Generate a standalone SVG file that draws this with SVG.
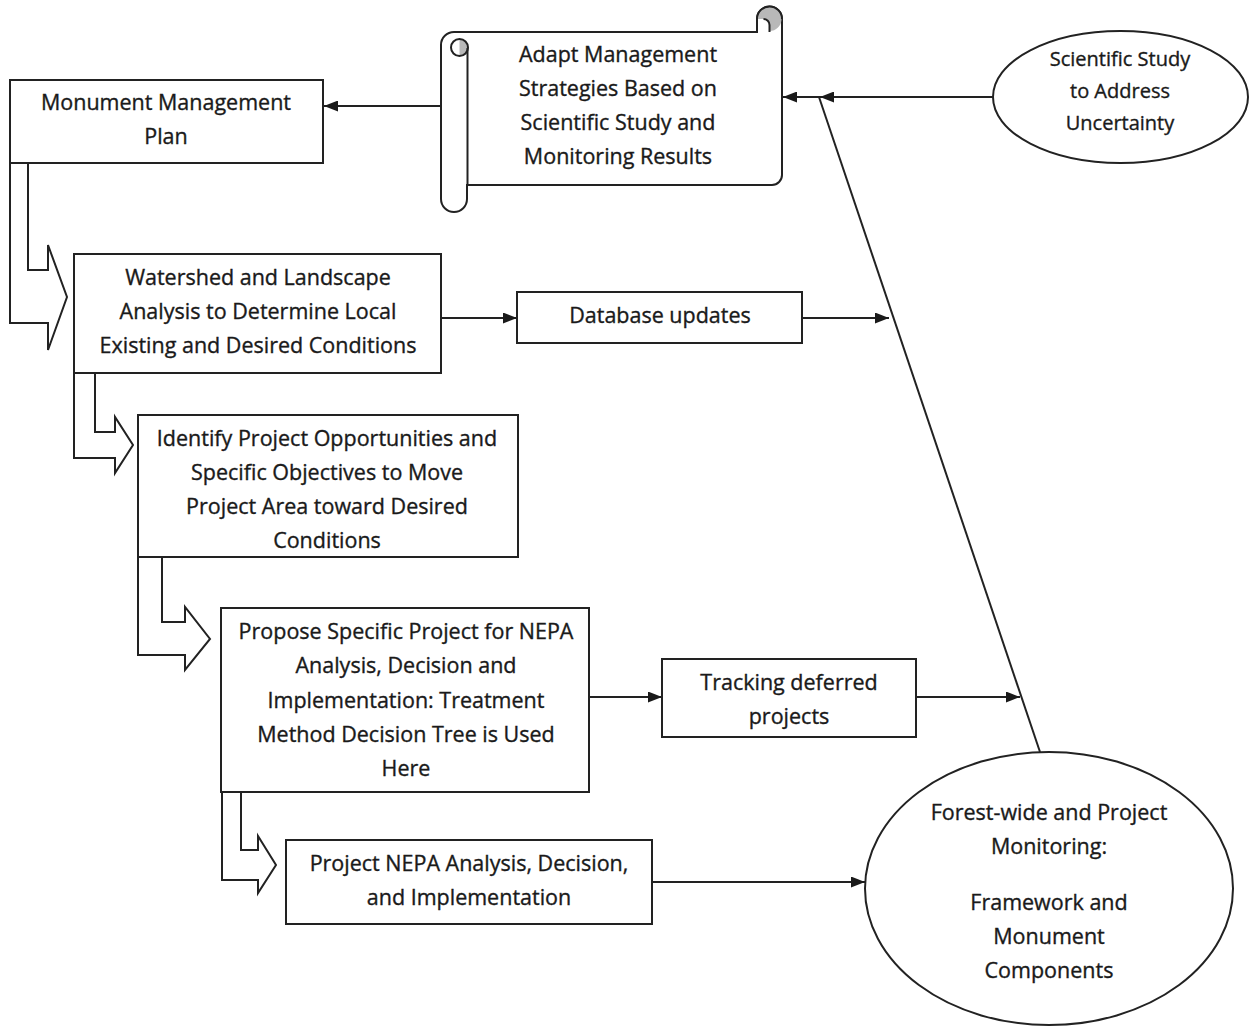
<svg xmlns="http://www.w3.org/2000/svg" width="1253" height="1027" viewBox="0 0 1253 1027">
<defs>
<marker id="ah" viewBox="0 0 14 11" refX="14" refY="5.5" markerWidth="14" markerHeight="11" markerUnits="userSpaceOnUse" orient="auto">
<path d="M0,0 L14,5.5 L0,11 Z" fill="#1a1a1a"/>
</marker>
</defs>
<style>
.bx{fill:#fff;stroke:#222;stroke-width:2}
.ln{fill:none;stroke:#222;stroke-width:2}
.ar{fill:none;stroke:#222;stroke-width:2;marker-end:url(#ah)}
.blk{fill:#fff;stroke:#222;stroke-width:2;stroke-linejoin:miter}
.gr{fill:#b8b8b8;stroke:none}
text{font-family:"Open Sans","Noto Sans",sans-serif;font-size:21.5px;fill:#1a1a1a;stroke:#1a1a1a;stroke-width:0.35;text-anchor:middle}
.sm{font-size:20px}
</style>
<rect width="1253" height="1027" fill="#fff"/>
<g id="connectors">
<path class="blk" d="M10,163 V323 H48 V350 L67,297 L48,245 V270 H28 V163"/>
<path class="blk" d="M74,373 V458 H115 V473 L133,445 L115,417 V432 H95 V373"/>
<path class="blk" d="M138,557 V655 H185 V670 L210,639 L185,607 V622 H162 V557"/>
<path class="blk" d="M222,792 V880 H258 V893 L276,865 L258,836 V850 H241 V792"/>
<path class="ar" d="M441,106 H324"/>
<path class="ar" d="M441,318 H517"/>
<path class="ar" d="M802,318 H889"/>
<path class="ar" d="M589,697 H662"/>
<path class="ar" d="M916,697 H1020"/>
<path class="ar" d="M652,882 H865"/>
<path class="ar" d="M993,97 H820"/>
<path class="ar" d="M820,97 H783"/>
<path class="ln" d="M1040,752 L819,97"/>
</g>
<g id="scroll">
<path class="bx" d="M454,32 H757 V19 A12.5,12.5 0 0 1 782,19 V175 A10,10 0 0 1 772,185 H467 V199 A13,13 0 0 1 441,199 V45 A13,13 0 0 1 454,32 Z"/>
<path class="gr" d="M757.5,19 A12,12 0 0 1 781.5,19 A12,12 0 0 1 769.5,31 V25 A6,6 0 0 0 763.5,19 Z"/>
<path class="ln" d="M769.5,32 V25 A6,6 0 0 0 763.5,19"/>
<path class="ln" d="M757,32 V19 A12.5,12.5 0 0 1 782,19"/>
<path class="gr" d="M459.5,39 A8.5,8.5 0 0 1 459.5,56 Z"/>
<circle class="ln" cx="459.5" cy="47.5" r="8.5"/>
<path class="ln" d="M467.5,48 V185"/>
<text x="618" y="62">Adapt Management</text>
<text x="618" y="96">Strategies Based on</text>
<text x="618" y="130">Scientific Study and</text>
<text x="618" y="164">Monitoring Results</text>
</g>
<g id="mmp">
<rect class="bx" x="10" y="80" width="313" height="83"/>
<text x="166" y="110">Monument Management</text>
<text x="166" y="144">Plan</text>
</g>
<g id="science">
<ellipse class="bx" cx="1120.5" cy="97" rx="127.5" ry="66"/>
<text class="sm" x="1120" y="66">Scientific Study</text>
<text class="sm" x="1120" y="98">to Address</text>
<text class="sm" x="1120" y="130">Uncertainty</text>
</g>
<g id="watershed">
<rect class="bx" x="74" y="254" width="367" height="119"/>
<text x="258" y="285">Watershed and Landscape</text>
<text x="258" y="319">Analysis to Determine Local</text>
<text x="258" y="353">Existing and Desired Conditions</text>
</g>
<g id="database">
<rect class="bx" x="517" y="292" width="285" height="51"/>
<text x="660" y="323">Database updates</text>
</g>
<g id="identify">
<rect class="bx" x="138" y="415" width="380" height="142"/>
<text x="327" y="446">Identify Project Opportunities and</text>
<text x="327" y="480">Specific Objectives to Move</text>
<text x="327" y="514">Project Area toward Desired</text>
<text x="327" y="548">Conditions</text>
</g>
<g id="propose">
<rect class="bx" x="221" y="608" width="368" height="184"/>
<text x="406" y="639">Propose Specific Project for NEPA</text>
<text x="406" y="673">Analysis, Decision and</text>
<text x="406" y="708">Implementation: Treatment</text>
<text x="406" y="742">Method Decision Tree is Used</text>
<text x="406" y="776">Here</text>
</g>
<g id="tracking">
<rect class="bx" x="662" y="659" width="254" height="78"/>
<text x="789" y="690">Tracking deferred</text>
<text x="789" y="724">projects</text>
</g>
<g id="nepa">
<rect class="bx" x="286" y="840" width="366" height="84"/>
<text x="469" y="871">Project NEPA Analysis, Decision,</text>
<text x="469" y="905">and Implementation</text>
</g>
<g id="monitoring">
<ellipse class="bx" cx="1049" cy="888.5" rx="184" ry="136.5"/>
<text x="1049" y="820">Forest-wide and Project</text>
<text x="1049" y="854">Monitoring:</text>
<text x="1049" y="910">Framework and</text>
<text x="1049" y="944">Monument</text>
<text x="1049" y="978">Components</text>
</g>
</svg>
